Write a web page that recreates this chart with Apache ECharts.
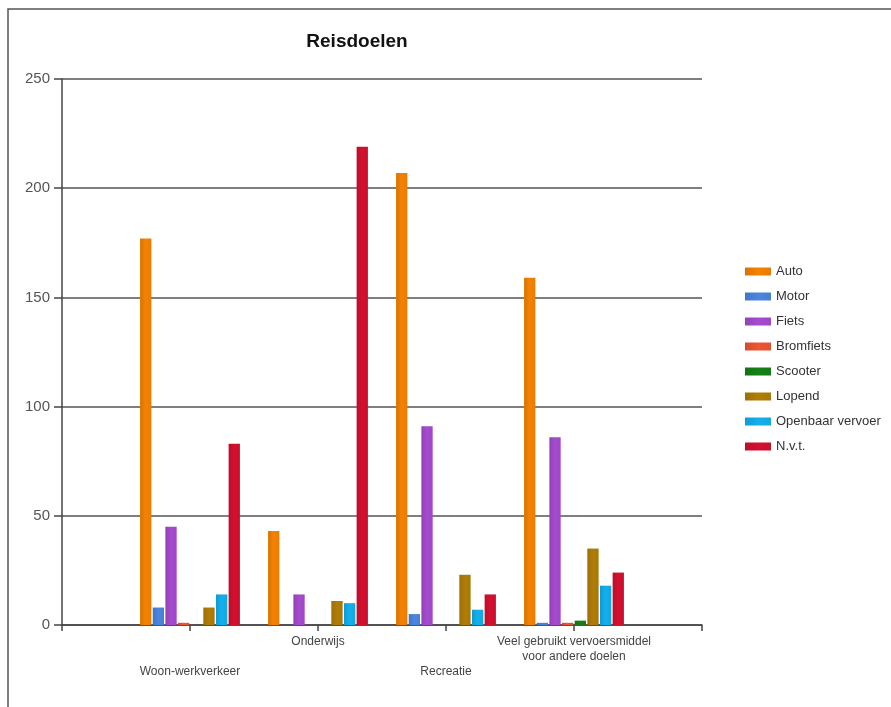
<!DOCTYPE html>
<html>
<head>
<meta charset="utf-8">
<script src="https://cdn.jsdelivr.net/npm/echarts@6/dist/echarts.min.js"></script>
<style>html,body{margin:0;padding:0;background:#fff}#c{width:891px;height:707px}</style>
</head>
<body>
<div id="c"></div>
<script>
const categories = ['Woon-werkverkeer', 'Onderwijs', 'Recreatie', 'Veel gebruikt vervoersmiddel\nvoor andere doelen'];
const seriesNames = ['Auto', 'Motor', 'Fiets', 'Bromfiets', 'Scooter', 'Lopend', 'Openbaar vervoer', 'N.v.t.'];
const auto = [177, 43, 207, 159];
const motor = [8, 0, 5, 1];
const fiets = [45, 14, 91, 86];
const bromfiets = [1, 0, 0, 1];
const scooter = [0, 0, 0, 2];
const lopend = [8, 11, 23, 35];
const openbaarVervoer = [14, 10, 7, 18];
const nvt = [83, 219, 14, 24];
const yTicks = [0, 50, 100, 150, 200, 250];

const colors = ['#F58300', '#4A86E0', '#A64BD0', '#EE5533', '#168016', '#B07D08', '#12B0EE', '#D5102F'];
const values = [auto, motor, fiets, bromfiets, scooter, lopend, openbaarVervoer, nvt];

function shade(hex, f) {
  const n = parseInt(hex.slice(1), 16);
  const r = Math.round(((n >> 16) & 255) * f), g = Math.round(((n >> 8) & 255) * f), b = Math.round((n & 255) * f);
  return 'rgb(' + Math.min(r,255) + ',' + Math.min(g,255) + ',' + Math.min(b,255) + ')';
}

const axisCats = [''].concat(categories).concat(['']);
const lowerIdx = {1: true, 3: true};

const chart = echarts.init(document.getElementById('c'), null, {renderer: 'canvas'});
chart.setOption({
  animation: false,
  backgroundColor: '#fff',
  color: colors,
  textStyle: {fontFamily: 'Liberation Sans, Arial, sans-serif'},
  title: {
    text: 'Reisdoelen',
    left: 352, top: 27, textAlign: 'center',
    textStyle: {fontSize: 19, fontWeight: 'bold', color: '#111', fontFamily: 'Liberation Sans, Arial, sans-serif'}
  },
  graphic: [{
    type: 'rect', shape: {x: 8, y: 9, width: 1000, height: 1000},
    style: {fill: 'none', stroke: '#555', lineWidth: 1.5}, silent: true
  }],
  legend: {
    orient: 'vertical', left: 740, top: 260,
    itemWidth: 26, itemHeight: 8, itemGap: 12,
    icon: 'rect',
    textStyle: {fontSize: 13, color: '#333'},
    data: seriesNames
  },
  grid: {left: 62, right: 189, top: 79, bottom: 82, containLabel: false},
  xAxis: {
    type: 'category', data: axisCats, boundaryGap: false,
    axisLine: {lineStyle: {color: '#444', width: 1.5}},
    axisTick: {show: true, length: 6, interval: 0, lineStyle: {color: '#444', width: 1.5}},
    axisLabel: {
      interval: 0, fontSize: 12, color: '#444', lineHeight: 15, margin: 9,
      formatter: function (v, i) { return lowerIdx[i] ? '\n\n' + v : v; }
    },
    splitLine: {show: false}
  },
  yAxis: {
    type: 'value', min: 0, max: 250, interval: 50,
    axisLine: {show: true, lineStyle: {color: '#444', width: 1.5}},
    axisTick: {show: true, length: 8, lineStyle: {color: '#444', width: 1.5}},
    axisLabel: {fontSize: 15, color: '#555', margin: 12,
      formatter: function (v) { return yTicks.indexOf(v) >= 0 ? String(v) : ''; }},
    splitLine: {show: true, lineStyle: {color: '#555', width: 1.5}}
  },
  series: seriesNames.map(function (name, k) {
    return {
      name: name, type: 'bar',
      barCategoryGap: '22%', barGap: '12%',
      itemStyle: {
        color: {
          type: 'linear', x: 0, y: 0, x2: 1, y2: 0,
          colorStops: [{offset: 0, color: shade(colors[k], 0.88)}, {offset: 0.5, color: colors[k]}, {offset: 1, color: shade(colors[k], 0.95)}]
        }
      },
      data: [null].concat(values[k]).concat([null])
    };
  })
});
</script>
</body>
</html>
